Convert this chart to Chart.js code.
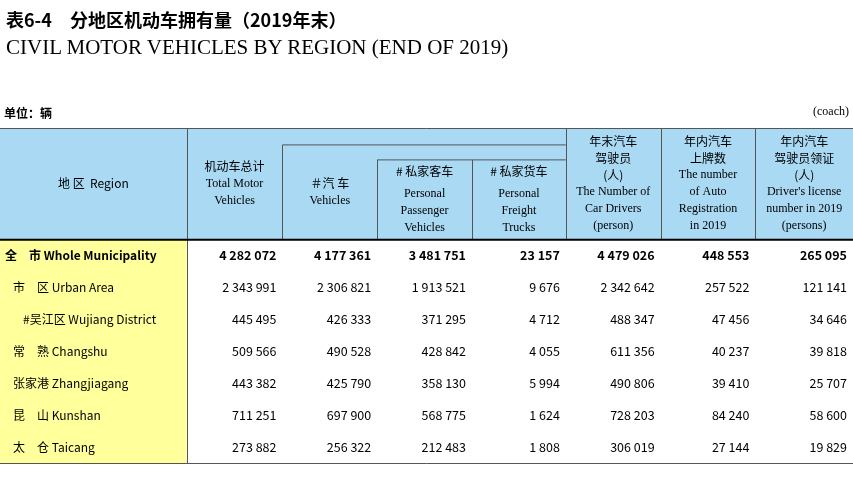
<!DOCTYPE html>
<html>
<head>
<meta charset="utf-8">
<script src="https://cdn.jsdelivr.net/npm/chart.js@4.4.0/dist/chart.umd.min.js"></script>
<style>
  body { margin: 0; width: 853px; height: 497px; background: #fff; position: relative; overflow: hidden; }
  #c { position: absolute; left: 0; top: 0; }
  .t1 { position: absolute; left: 6px; top: 6px; font: bold 18px "Noto Sans CJK SC"; }
  .t2 { position: absolute; left: 6px; top: 35px; font: 21px "Liberation Serif"; }
  .unit { position: absolute; left: 4px; top: 104px; font: bold 12px "Noto Sans CJK SC"; }
  .coach { position: absolute; right: 4px; top: 104px; font: 12px "Liberation Serif"; }
</style>
</head>
<body>
<canvas id="c" width="853" height="497"></canvas>
<div class="t1">表6-4　分地区机动车拥有量（2019年末）</div>
<div class="t2">CIVIL MOTOR VEHICLES BY REGION (END OF 2019)</div>
<div class="unit">单位：辆</div>
<div class="coach">(coach)</div>
<script>
// Table data
const regions = ['全　市 Whole Municipality', '市　区 Urban Area', '#吴江区 Wujiang District', '常　熟 Changshu', '张家港 Zhangjiagang', '昆　山 Kunshan', '太　仓 Taicang'];
const regionIndent = [0, 8, 18, 8, 8, 8, 8];
const totalMotor = ['4 282 072', '2 343 991', '445 495', '509 566', '443 382', '711 251', '273 882'];
const vehicles = ['4 177 361', '2 306 821', '426 333', '490 528', '425 790', '697 900', '256 322'];
const passenger = ['3 481 751', '1 913 521', '371 295', '428 842', '358 130', '568 775', '212 483'];
const freight = ['23 157', '9 676', '4 712', '4 055', '5 994', '1 624', '1 808'];
const drivers = ['4 479 026', '2 342 642', '488 347', '611 356', '490 806', '728 203', '306 019'];
const registration = ['448 553', '257 522', '47 456', '40 237', '39 410', '84 240', '27 144'];
const licenses = ['265 095', '121 141', '34 646', '39 818', '25 707', '58 600', '19 829'];

const columns = [totalMotor, vehicles, passenger, freight, drivers, registration, licenses];
const colEdges = [0, 1.97, 2.98, 3.98, 4.98, 5.97, 6.97, 7.97, 9];
const headerRows = 3.5;

const headers = [
  { x0: 0, x1: 1.97, y0: 0, lines: ['地 区  Region'] },
  { x0: 1.97, x1: 2.98, y0: 0, lines: ['机动车总计', 'Total Motor', 'Vehicles'] },
  { x0: 2.98, x1: 3.98, y0: 0.53, lines: ['＃汽 车', 'Vehicles'] },
  { x0: 3.98, x1: 4.98, y0: 1.0, gap: 6, lines: ['# 私家客车', 'Personal', 'Passenger', 'Vehicles'] },
  { x0: 4.98, x1: 5.97, y0: 1.0, gap: 6, lines: ['# 私家货车', 'Personal', 'Freight', 'Trucks'] },
  { x0: 5.97, x1: 6.97, y0: 0, lines: ['年末汽车', '驾驶员', '(人)', 'The Number of', 'Car Drivers', '(person)'] },
  { x0: 6.97, x1: 7.97, y0: 0, lines: ['年内汽车', '上牌数', 'The number', 'of Auto', 'Registration', 'in 2019'] },
  { x0: 7.97, x1: 9, y0: 0, lines: ['年内汽车', '驾驶员领证', '(人)', "Driver's license", 'number in 2019', '(persons)'] }
];

const tablePlugin = {
  id: 'table',
  afterDraw(chart) {
    const ctx = chart.ctx, xs = chart.scales.x, ys = chart.scales.y;
    const X = v => xs.getPixelForValue(v), Y = v => ys.getPixelForValue(v);
    const nRows = regions.length;
    ctx.save();
    // header background
    ctx.fillStyle = '#a9d9f3';
    ctx.fillRect(X(0), Y(0), X(9) - X(0), Y(headerRows) - Y(0));
    // region column yellow
    ctx.fillStyle = '#ffff9c';
    ctx.fillRect(X(0), Y(headerRows), X(1.97) - X(0), Y(headerRows + nRows) - Y(headerRows));
    // header borders
    ctx.strokeStyle = '#555';
    ctx.lineWidth = 1;
    ctx.beginPath();
    ctx.moveTo(X(0), Y(0) + 0.5); ctx.lineTo(X(9), Y(0) + 0.5);
    ctx.moveTo(X(2.98), Y(0.53)); ctx.lineTo(X(5.97), Y(0.53));
    ctx.moveTo(X(3.98), Y(1.0)); ctx.lineTo(X(5.97), Y(1.0));
    headers.forEach(h => {
      if (h.x0 > 0) { ctx.moveTo(Math.round(X(h.x0)) + 0.5, Y(h.y0)); ctx.lineTo(Math.round(X(h.x0)) + 0.5, Y(headerRows)); }
    });
    ctx.moveTo(Math.round(X(1.97)) + 0.5, Y(headerRows)); ctx.lineTo(Math.round(X(1.97)) + 0.5, Y(headerRows + nRows));
    ctx.moveTo(X(0), Y(headerRows + nRows) + 0.5); ctx.lineTo(X(9), Y(headerRows + nRows) + 0.5);
    ctx.stroke();
    ctx.lineWidth = 2;
    ctx.strokeStyle = '#000';
    ctx.beginPath();
    ctx.moveTo(X(0), Y(headerRows)); ctx.lineTo(X(9), Y(headerRows));
    ctx.stroke();
    // header text
    ctx.fillStyle = '#000';
    ctx.textAlign = 'center';
    ctx.textBaseline = 'middle';
    headers.forEach(h => {
      const cx = (X(h.x0) + X(h.x1)) / 2;
      const top = Y(h.y0), bottom = Y(headerRows);
      const lh = 17, gap = h.gap || 0;
      const startY = (top + bottom) / 2 - ((h.lines.length - 1) * lh + gap) / 2;
      h.lines.forEach((l, i) => {
        ctx.font = /[\u4e00-\u9fff]/.test(l) ? '12px "Noto Sans CJK SC"' : '12px "Liberation Serif"';
        ctx.fillText(l, cx, startY + i * lh + (i > 0 ? gap : 0));
      });
    });
    // body rows
    for (let r = 0; r < nRows; r++) {
      const cy = Y(headerRows + r + 0.5);
      const bold = r === 0 ? 'bold ' : '';
      ctx.textAlign = 'left';
      ctx.font = bold + '12px "Noto Sans CJK SC"';
      ctx.fillText(regions[r], X(0) + 5 + regionIndent[r], cy);
      ctx.textAlign = 'right';
      ctx.font = bold + '12.5px "Noto Sans CJK SC"';
      columns.forEach((col, c) => {
        ctx.fillText(col[r], X(colEdges[c + 2]) - 6, cy);
      });
    }
    ctx.restore();
  }
};

new Chart(document.getElementById('c'), {
  type: 'scatter',
  data: { datasets: [{ data: [], pointRadius: 0 }] },
  options: {
    responsive: false,
    animation: false,
    layout: { padding: { top: 128, left: 0, right: 0, bottom: 34 } },
    plugins: { legend: { display: false }, tooltip: { enabled: false } },
    scales: {
      x: { type: 'linear', min: 0, max: 9, display: false },
      y: { type: 'linear', min: 0, max: headerRows + regions.length, reverse: true, display: false }
    }
  },
  plugins: [tablePlugin]
});
</script>
</body>
</html>
